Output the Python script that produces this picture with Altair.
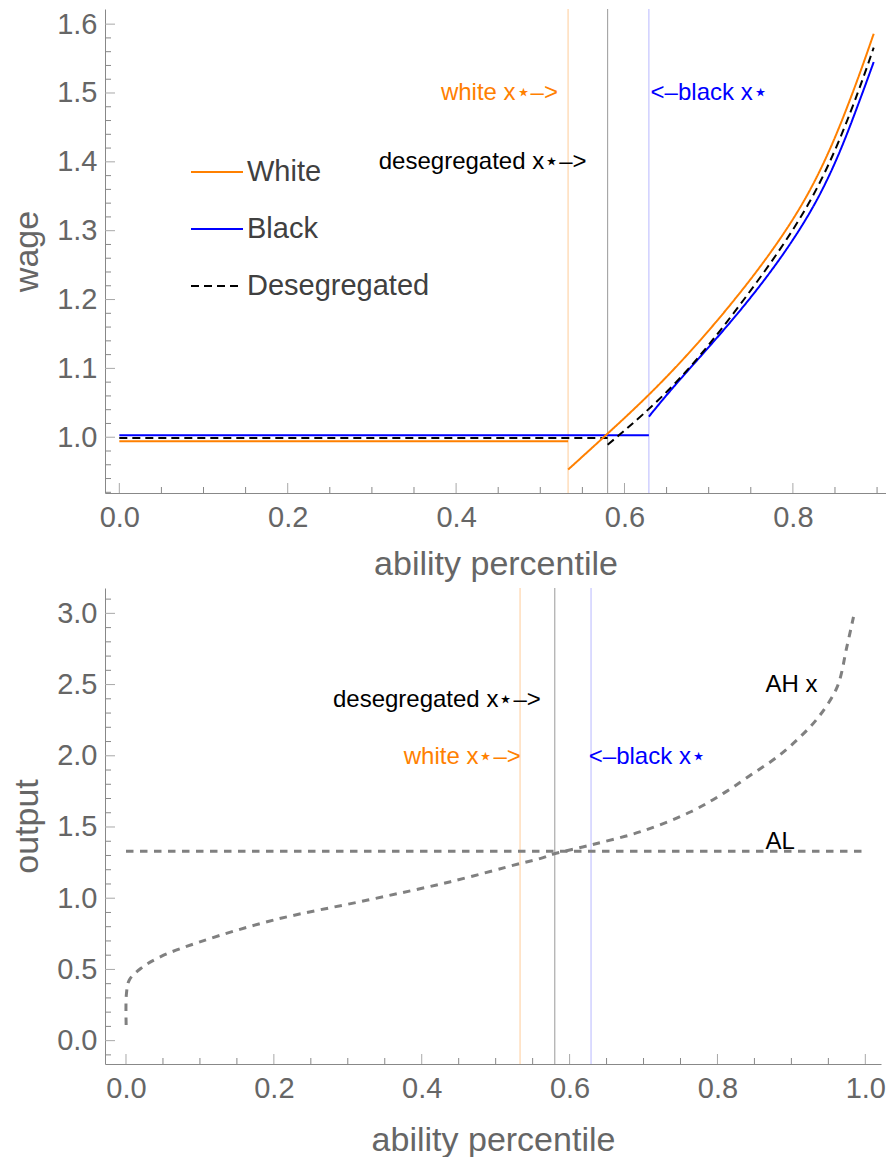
import altair as alt
import pandas as pd

FONT = "Liberation Sans"
ORANGE = "#FF8000"
BLUE = "#0000FF"
GRAY_TXT = "#666666"

# ---------------- data: top panel (wage) ----------------
series_names = ["White", "Black", "Desegregated"]
series_colors = [ORANGE, BLUE, "#000000"]

white_low_x = [0.0, 0.533]
white_low_y = [0.994, 0.994]
white_high_x = [0.533, 0.579, 0.647, 0.730, 0.818, 0.867, 0.896]
white_high_y = [0.953, 1.004, 1.081, 1.195, 1.340, 1.484, 1.586]

black_low_x = [0.0, 0.629]
black_low_y = [1.003, 1.003]
black_high_x = [0.629, 0.663, 0.748, 0.833, 0.878, 0.896]
black_high_y = [1.030, 1.081, 1.195, 1.340, 1.484, 1.545]

deseg_low_x = [0.0, 0.580]
deseg_low_y = [0.999, 0.999]
deseg_high_x = [0.580, 0.662, 0.740, 0.825, 0.873, 0.896]
deseg_high_y = [0.989, 1.074, 1.195, 1.340, 1.484, 1.566]

# thresholds x*
xstar_labels = ["white", "desegregated", "black"]
xstar_values = [0.533, 0.580, 0.629]
xstar_colors = ["#FFCC99", "#999999", "#B8B8FF"]

# ---------------- data: bottom panel (output) ----------------
ahx_x = [0.0002, 0.0006, 0.0045, 0.0203, 0.047, 0.101, 0.2, 0.327, 0.439, 0.534,
         0.561, 0.578, 0.628, 0.696, 0.764, 0.808, 0.845, 0.881, 0.912, 0.937,
         0.962, 0.975, 0.984]
ahx_y = [0.11, 0.33, 0.426, 0.508, 0.59, 0.695, 0.847, 0.987, 1.116, 1.245,
         1.28, 1.31, 1.373, 1.467, 1.607, 1.736, 1.865, 1.993, 2.133, 2.274,
         2.484, 2.765, 2.975]
al_x = [0.0, 1.0]
al_y = [1.33, 1.33]

# ---------------- ticks ----------------
top_x_major = [0.0, 0.2, 0.4, 0.6, 0.8]
top_x_minor = [0.05, 0.1, 0.15, 0.25, 0.3, 0.35, 0.45, 0.5, 0.55, 0.65, 0.7, 0.75, 0.85, 0.9]
top_y_major = [1.0, 1.1, 1.2, 1.3, 1.4, 1.5, 1.6]
top_y_minor = [0.92, 0.94, 0.96, 0.98] + [round(1.0 + 0.02 * i, 2) for i in range(1, 30) if i % 5 != 0]
bot_x_major = [0.0, 0.2, 0.4, 0.6, 0.8, 1.0]
bot_x_minor = [0.05, 0.1, 0.15, 0.25, 0.3, 0.35, 0.45, 0.5, 0.55, 0.65, 0.7, 0.75, 0.85, 0.9, 0.95]
bot_y_major = [0.0, 0.5, 1.0, 1.5, 2.0, 2.5, 3.0]
bot_y_minor = [-0.1] + [round(0.1 * i, 1) for i in range(1, 32) if i % 5 != 0]

# ---------------- layout ----------------
TOP_W, TOP_H = 781, 484
BOT_W, BOT_H = 776, 476
top_xdom = [-0.017, 0.9106]
top_ydom = [0.919, 1.622]
bot_xdom = [-0.0284, 1.0212]
bot_ydom = [-0.164, 3.178]


def rows(series, seg, xs, ys):
    return [{"series": series, "seg": seg, "x": a, "y": b} for a, b in zip(xs, ys)]


xstar_df = pd.DataFrame({"name": xstar_labels, "x": xstar_values, "c": xstar_colors})


def axis_x(values, title, tpad):
    return alt.Axis(values=values, format=".1f", title=title, ticks=False, grid=False,
                    labelFontSize=29, labelFont=FONT, labelColor=GRAY_TXT, labelPadding=10,
                    labelFlush=False, labelOverlap=False,
                    titleFontSize=34, titleFont=FONT, titleColor=GRAY_TXT,
                    titleFontWeight="normal", titlePadding=tpad,
                    domainColor="#888888", domainWidth=1)


def axis_y(values, title):
    return alt.Axis(values=values, format=".1f", title=title, ticks=False, grid=False,
                    labelFontSize=29, labelFont=FONT, labelColor=GRAY_TXT, labelPadding=8,
                    labelFlush=False, labelOverlap=False,
                    titleFontSize=34, titleFont=FONT, titleColor=GRAY_TXT,
                    titleFontWeight="normal", titlePadding=12,
                    domainColor="#888888", domainWidth=1)


def build_panel(xdom, ydom, W, H, xmaj, xmin, ymaj, ymin, xtitle, ytitle, tpad, line_layers_fn,
                txt_r, txt_l):
    xs = alt.Scale(domain=xdom, nice=False, zero=False)
    ys = alt.Scale(domain=ydom, nice=False, zero=False)
    ax = axis_x(xmaj, xtitle, tpad)
    ay = axis_y(ymaj, ytitle)
    X = lambda f: alt.X(f, scale=xs, axis=ax)
    Y = lambda f: alt.Y(f, scale=ys, axis=ay)

    layers = []
    # x* rules
    layers.append(alt.Chart(xstar_df).mark_rule(strokeWidth=1).encode(
        x=X("x:Q"), stroke=alt.Stroke("c:N", scale=None)))
    # inward ticks
    for vals, L, col in [(xmaj, 10, "#a8a8a8"), (xmin, 6, "#888888")]:
        d = pd.DataFrame({"v": vals})
        layers.append(alt.Chart(d).mark_rule(color=col, strokeWidth=1).encode(
            x=X("v:Q"), y=alt.value(H), y2=alt.value(H - L)))
    for vals, L, col in [(ymaj, 10, "#a8a8a8"), (ymin, 6, "#888888")]:
        d = pd.DataFrame({"v": vals})
        layers.append(alt.Chart(d).mark_rule(color=col, strokeWidth=1).encode(
            y=Y("v:Q"), x=alt.value(0), x2=alt.value(L)))
    layers += line_layers_fn(X, Y)
    for df, align in [(txt_r, "right"), (txt_l, "left")]:
        layers.append(alt.Chart(df).mark_text(align=align, baseline="middle", font=FONT,
                                              fontSize=24).encode(
            x=X("x:Q"), y=Y("y:Q"), text="t:N", fill=alt.Fill("c:N", scale=None)))
    return alt.layer(*layers).properties(width=W, height=H)


# ---------------- top chart ----------------
leg = alt.Legend(orient="none", legendX=85, legendY=136, title=None, symbolType="stroke",
                 symbolSize=2704, labelFontSize=29, labelFont=FONT, labelColor="#404040",
                 labelOffset=3, rowPadding=15, padding=0, offset=0, labelLimit=0)

top_low_df = pd.DataFrame(
    rows("White", "w1", white_low_x, white_low_y)
    + rows("Black", "b1", black_low_x, black_low_y)
    + rows("Desegregated", "d1", deseg_low_x, deseg_low_y)
)
top_high_df = pd.DataFrame(
    rows("White", "w2", white_high_x, white_high_y)
    + rows("Black", "b2", black_high_x, black_high_y)
    + rows("Desegregated", "d2", deseg_high_x, deseg_high_y)
)


def top_lines(X, Y):
    enc = dict(
        detail="seg:N",
        color=alt.Color("series:N", scale=alt.Scale(domain=series_names, range=series_colors), legend=leg),
        strokeDash=alt.StrokeDash("series:N", scale=alt.Scale(domain=series_names,
                                                              range=[[1, 0], [1, 0], [8, 5]]), legend=leg),
        strokeWidth=alt.StrokeWidth("series:N", scale=alt.Scale(domain=series_names, range=[2, 2, 3.2]),
                                    legend=leg),
    )
    return [
        alt.Chart(top_low_df).mark_line().encode(x=X("x:Q"), y=Y("y:Q"), **enc),
        alt.Chart(top_high_df).mark_line(interpolate="basis").encode(x=X("x:Q"), y=Y("y:Q"), **enc),
    ]


top_txt_r = pd.DataFrame({"t": ["white x⋆–>", "desegregated x⋆–>"], "x": [0.521, 0.555], "y": [1.5, 1.4],
                          "c": [ORANGE, "#000000"]})
top_txt_l = pd.DataFrame({"t": ["<–black x⋆"], "x": [0.631], "y": [1.5], "c": [BLUE]})

top = build_panel(top_xdom, top_ydom, TOP_W, TOP_H, top_x_major, top_x_minor, top_y_major, top_y_minor,
                  "ability percentile", "wage", 15, top_lines, top_txt_r, top_txt_l)

# ---------------- bottom chart ----------------
bot_df = pd.DataFrame(rows("AH x", "ah", ahx_x, ahx_y) + rows("AL", "al", al_x, al_y))


def bot_lines(X, Y):
    return [alt.Chart(bot_df).mark_line(color="#808080", strokeWidth=3, strokeDash=[7.5, 6.5],
                                        interpolate="catmull-rom").encode(
        x=X("x:Q"), y=Y("y:Q"), detail="seg:N")]


bot_txt_r = pd.DataFrame({"t": ["desegregated x⋆–>", "white x⋆–>"], "x": [0.561, 0.534], "y": [2.39, 1.99],
                          "c": ["#000000", ORANGE]})
bot_txt_l = pd.DataFrame({"t": ["<–black x⋆", "AH x", "AL"], "x": [0.626, 0.865, 0.865],
                          "y": [1.99, 2.50, 1.395], "c": [BLUE, "#000000", "#000000"]})

bot = build_panel(bot_xdom, bot_ydom, BOT_W, BOT_H, bot_x_major, bot_x_minor, bot_y_major, bot_y_minor,
                  "ability percentile", "output", 20, bot_lines, bot_txt_r, bot_txt_l)

chart = alt.vconcat(top, bot, spacing=6).properties(
    padding={"left": 2, "top": 0, "right": 0, "bottom": 0}
).configure_view(stroke=None)

chart.save("out.html", embed_options={"renderer": "svg", "actions": False})
